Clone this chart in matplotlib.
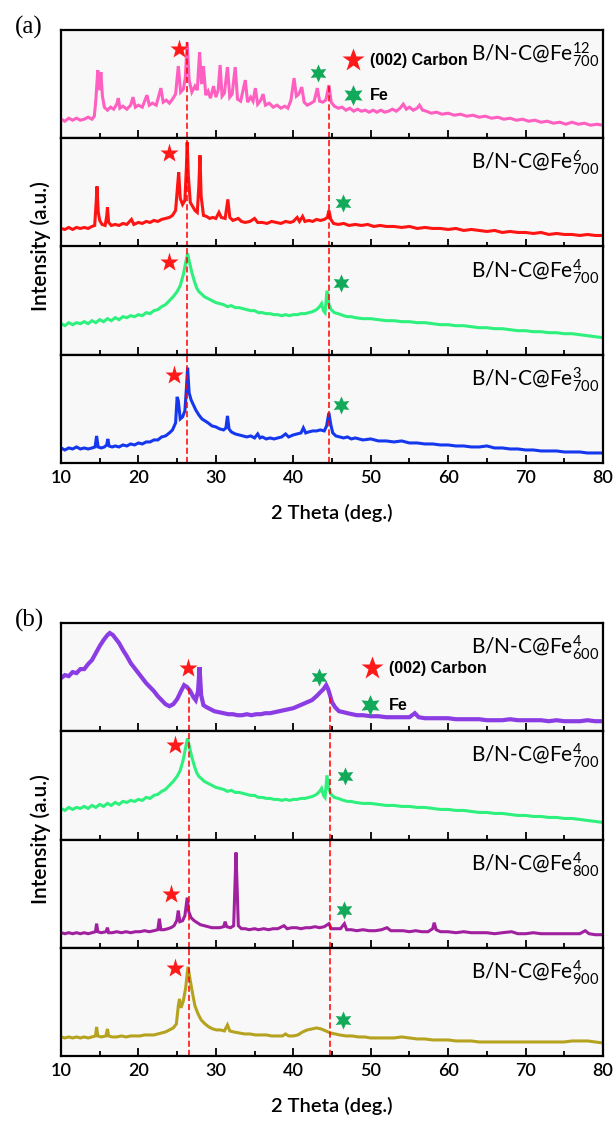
import numpy as np
import matplotlib
matplotlib.use("Agg")
import matplotlib.pyplot as plt
from matplotlib import font_manager
from matplotlib.ticker import MultipleLocator

# XRD patterns, 2 theta (deg.) vs intensity (a.u.)
fe12_700 = [(10, 19), (10.5, 17), (11, 20), (11.5, 18), (12, 20), (12.5, 18), (13, 19), (13.5, 21), (14, 19), (14.3, 22),
            (14.5, 38), (14.75, 68), (14.95, 48), (15.15, 66), (15.35, 42), (15.6, 31), (16.0, 28), (16.4, 31), (16.8, 29),
            (17.2, 34), (17.4, 40), (17.6, 30), (18.0, 32), (18.5, 29), (19.0, 33), (19.3, 41), (19.6, 31), (20.0, 33),
            (20.5, 31), (21.1, 43), (21.4, 33), (21.8, 35), (22.3, 33), (22.9, 50), (23.2, 36), (23.6, 38), (24.0, 35),
            (24.4, 39), (24.8, 44), (25.15, 72), (25.45, 46), (25.8, 49), (26.05, 60), (26.3, 96), (26.55, 58), (26.9, 46),
            (27.3, 52), (27.6, 48), (27.9, 86), (28.15, 54), (28.4, 72), (28.7, 43), (29.0, 47), (29.3, 40), (29.7, 52),
            (30.0, 41), (30.3, 48), (30.55, 73), (30.8, 42), (31.1, 45), (31.5, 71), (31.8, 41), (32.1, 44), (32.5, 71),
            (32.8, 39), (33.2, 37), (33.8, 58), (34.1, 36), (34.5, 41), (34.8, 37), (35.1, 50), (35.4, 34), (35.8, 38),
            (36.1, 44), (36.4, 33), (36.9, 35), (37.4, 31), (37.9, 33), (38.4, 30), (38.9, 32), (39.3, 30), (39.7, 38),
            (40.1, 60), (40.4, 42), (40.7, 44), (41.1, 51), (41.4, 36), (41.8, 33), (42.3, 35), (42.7, 37), (43.1, 50),
            (43.4, 37), (43.8, 36), (44.2, 38), (44.6, 53), (44.9, 36), (45.3, 32), (45.8, 30), (46.3, 31), (46.8, 28),
            (47.3, 30), (47.8, 27), (48.3, 29), (48.8, 27), (49.3, 28), (49.8, 26), (50.3, 28), (50.8, 26), (51.3, 28),
            (51.8, 26), (52.3, 27), (52.8, 29), (53.3, 27), (53.8, 30), (54.2, 34), (54.6, 29), (55.0, 31), (55.5, 28),
            (56.0, 30), (56.3, 33), (56.7, 28), (57.2, 27), (57.8, 25), (58.5, 26), (59.2, 24), (60.0, 25), (60.8, 23),
            (61.6, 24), (62.4, 22), (63.2, 23), (64.0, 21), (64.8, 22), (65.6, 20), (66.4, 21), (67.2, 19), (68.0, 20),
            (68.8, 18), (69.6, 19), (70.4, 17), (71.2, 18), (72.0, 16), (72.8, 17), (73.6, 15), (74.4, 16), (75.2, 14),
            (76.0, 16), (76.8, 14), (77.6, 15), (78.4, 13), (79.2, 14), (80.0, 13)]

fe6_700 = [(10, 18), (10.5, 17), (11, 19), (11.5, 17), (12, 19), (12.5, 18), (13, 19), (13.5, 18), (14, 20), (14.35, 21),
           (14.55, 45), (14.65, 60), (14.8, 35), (15.0, 26), (15.3, 22), (15.7, 21), (15.9, 30), (16.0, 39), (16.15, 24),
           (16.5, 21), (17.0, 22), (17.5, 21), (18.0, 23), (18.5, 22), (19.1, 27), (19.4, 22), (20.0, 24), (20.5, 23),
           (21.0, 25), (21.5, 24), (22.0, 26), (22.5, 25), (23.0, 27), (23.5, 28), (24.0, 29), (24.4, 31), (24.8, 36),
           (25.05, 60), (25.2, 74), (25.4, 48), (25.7, 42), (26.0, 46), (26.2, 80), (26.3, 104), (26.45, 70), (26.7, 44),
           (27.0, 40), (27.3, 36), (27.6, 34), (27.8, 60), (27.95, 91), (28.1, 50), (28.4, 31), (28.8, 30), (29.2, 28),
           (29.6, 29), (30.0, 28), (30.4, 34), (30.7, 29), (31.2, 28), (31.55, 47), (31.8, 29), (32.2, 26), (32.9, 28),
           (33.3, 25), (33.8, 24), (34.4, 25), (35.0, 28), (35.4, 24), (36.0, 24), (36.6, 23), (37.2, 25), (37.8, 24),
           (38.4, 23), (39.0, 25), (39.6, 24), (40.0, 25), (40.5, 29), (40.8, 25), (41.2, 30), (41.5, 25), (42.0, 26),
           (42.5, 25), (43.0, 27), (43.5, 26), (44.0, 27), (44.4, 29), (44.6, 36), (44.85, 27), (45.2, 23), (45.8, 22),
           (46.5, 23), (47.2, 21), (48.0, 22), (48.8, 21), (49.6, 22), (50.4, 20), (51.2, 21), (52.0, 20), (53.0, 20),
           (54.0, 19), (55.0, 20), (56.0, 18), (57.0, 19), (58.0, 18), (59.0, 18), (60.0, 17), (61.0, 18), (62.0, 16),
           (63.0, 17), (64.0, 16), (65.0, 15), (66.0, 16), (67.0, 14), (68.0, 15), (69.0, 14), (70.0, 14), (71.0, 13),
           (72.0, 14), (73.0, 12), (74.0, 13), (75.0, 12), (76.0, 12), (77.0, 11), (78.0, 12), (79.0, 11), (80.0, 11)]

fe4_700 = [(10, 31), (10.5, 29), (11, 32), (11.5, 30), (12, 32), (12.5, 31), (13, 33), (13.5, 31), (14, 34), (14.5, 32),
           (15, 35), (15.5, 33), (16, 36), (16.5, 34), (17, 37), (17.5, 35), (18, 38), (18.5, 37), (19, 39), (19.5, 38),
           (20, 40), (20.5, 39), (21, 42), (21.5, 41), (22, 44), (22.5, 45), (23, 48), (23.5, 50), (24, 54), (24.5, 58),
           (25.0, 63), (25.4, 69), (25.8, 80), (26.1, 92), (26.35, 101), (26.6, 92), (26.9, 82), (27.2, 74), (27.5, 67),
           (27.8, 63), (28.1, 61), (28.5, 58), (29.0, 56), (29.5, 54), (30.0, 52), (30.5, 51), (31.0, 50), (31.5, 48),
           (32.0, 49), (32.5, 47), (33.0, 47), (33.5, 46), (34.0, 45), (34.5, 44), (35.0, 44), (35.5, 42), (36.0, 42),
           (36.5, 41), (37.0, 41), (37.5, 40), (38.0, 40), (38.5, 39), (39.0, 40), (39.5, 39), (40.0, 40), (40.5, 40),
           (41.0, 41), (41.5, 41), (42.0, 42), (42.5, 43), (43.0, 45), (43.4, 48), (43.65, 51), (43.9, 44), (44.1, 42),
           (44.35, 64), (44.6, 50), (44.9, 45), (45.3, 42), (45.8, 41), (46.5, 39), (47.0, 38), (47.5, 38), (48.0, 37),
           (49.0, 36), (50.0, 36), (51.0, 35), (52.0, 34), (53.0, 34), (54.0, 33), (55.0, 33), (56.0, 32), (57.0, 32),
           (58.0, 31), (59.0, 30), (60.0, 30), (61.0, 29), (62.0, 29), (63.0, 28), (64.0, 27), (65.0, 27), (66.0, 26),
           (67.0, 26), (68.0, 25), (69.0, 24), (70.0, 24), (71.0, 23), (72.0, 23), (73.0, 22), (74.0, 22), (75.0, 21),
           (76.0, 21), (77.0, 20), (78.0, 19), (79.0, 18), (80.0, 17)]

fe3_700 = [(10, 15), (10.5, 13), (11, 15), (11.5, 14), (12, 16), (12.5, 14), (13, 15), (13.5, 14), (14, 15), (14.4, 16),
           (14.6, 27), (14.8, 16), (15.2, 15), (15.6, 16), (15.9, 18), (16.05, 24), (16.2, 17), (16.6, 16), (17.0, 17),
           (17.5, 16), (18.0, 18), (18.5, 17), (19.0, 19), (19.5, 18), (20.0, 20), (20.5, 19), (21.0, 21), (21.5, 21),
           (22.0, 23), (22.5, 23), (23.0, 26), (23.5, 27), (24.0, 30), (24.4, 33), (24.8, 40), (25.0, 66), (25.15, 62),
           (25.4, 44), (25.7, 46), (26.0, 52), (26.2, 75), (26.35, 95), (26.55, 70), (26.8, 63), (27.1, 58), (27.4, 53),
           (27.8, 48), (28.2, 44), (28.6, 42), (29.0, 40), (29.5, 37), (30.0, 36), (30.5, 34), (31.0, 33), (31.3, 35),
           (31.5, 47), (31.7, 34), (32.0, 31), (32.5, 29), (33.0, 28), (33.5, 27), (34.0, 26), (34.5, 27), (35.0, 25),
           (35.4, 29), (35.7, 25), (36.0, 26), (36.5, 24), (37.0, 25), (37.5, 24), (38.0, 25), (38.5, 26), (39.0, 29),
           (39.4, 26), (40.0, 28), (40.5, 29), (41.0, 30), (41.3, 35), (41.6, 30), (42.0, 31), (42.5, 32), (43.0, 32),
           (43.5, 33), (44.0, 32), (44.3, 37), (44.6, 50), (44.85, 38), (45.1, 30), (45.5, 27), (46.0, 26), (46.5, 25),
           (47.0, 26), (47.5, 24), (48.0, 25), (49.0, 23), (50.0, 24), (51.0, 22), (52.0, 22), (53.0, 21), (54.0, 22),
           (55.0, 20), (56.0, 20), (57.0, 19), (58.0, 19), (59.0, 18), (60.0, 18), (61.0, 17), (62.0, 17), (63.0, 16),
           (64.0, 16), (65.0, 17), (66.0, 15), (67.0, 15), (68.0, 14), (69.0, 14), (70.0, 13), (71.0, 13), (72.0, 12),
           (73.0, 12), (74.0, 12), (75.0, 11), (76.0, 11), (77.0, 11), (78.0, 10), (79.0, 10), (80.0, 10)]

fe4_600 = [(10, 53), (10.5, 56), (11, 55), (11.5, 59), (12, 58), (12.5, 62), (13, 62), (13.5, 67), (14, 71), (14.5, 78),
           (15, 85), (15.5, 91), (16.0, 96), (16.3, 98), (16.7, 96), (17.0, 93), (17.5, 88), (18.0, 81), (18.5, 75),
           (19.0, 68), (19.5, 63), (20.0, 58), (20.5, 53), (21.0, 48), (21.5, 44), (22.0, 40), (22.5, 35), (23.0, 31),
           (23.5, 27), (24.0, 25), (24.5, 27), (25.0, 32), (25.5, 40), (25.9, 46), (26.3, 44), (26.7, 40), (27.1, 34),
           (27.4, 31), (27.7, 40), (27.9, 64), (28.1, 36), (28.4, 26), (28.8, 24), (29.3, 22), (29.8, 20), (30.4, 19),
           (31.0, 18), (31.6, 17), (32.2, 17), (32.8, 16), (33.4, 16), (34.0, 17), (34.6, 16), (35.2, 17), (35.8, 17),
           (36.4, 18), (37.0, 18), (37.6, 19), (38.2, 20), (38.8, 21), (39.4, 22), (40.0, 23), (40.6, 25), (41.2, 27),
           (41.8, 29), (42.4, 31), (43.0, 35), (43.5, 39), (43.9, 42), (44.25, 46), (44.5, 42), (44.7, 37), (45.0, 29),
           (45.4, 24), (45.9, 20), (46.5, 19), (47.0, 18), (47.6, 17), (48.2, 16), (49.0, 16), (50.0, 15), (51.0, 15),
           (52.0, 14), (53.0, 14), (54.0, 14), (55.0, 14), (55.7, 18), (56.2, 14), (57.0, 13), (58.0, 13), (59.0, 13),
           (60.0, 13), (61.0, 12), (62.0, 12), (63.0, 12), (64.0, 12), (65.0, 11), (66.0, 11), (67.0, 11), (68.0, 12),
           (69.0, 11), (70.0, 11), (71.0, 11), (72.0, 11), (73.0, 10), (74.0, 11), (75.0, 10), (76.0, 10), (77.0, 10),
           (78.0, 11), (79.0, 10), (80.0, 10)]

fe4_800 = [(10, 15), (10.5, 14), (11, 15), (11.5, 14), (12, 15), (12.5, 14), (13, 15), (13.5, 14), (14, 15), (14.45, 16),
           (14.6, 24), (14.75, 16), (15.2, 15), (15.8, 16), (16.0, 20), (16.15, 15), (16.6, 15), (17.2, 16), (17.8, 15),
           (18.4, 16), (19.0, 15), (19.6, 16), (20.2, 16), (20.8, 17), (21.4, 16), (22.0, 17), (22.5, 18), (22.7, 29),
           (22.9, 18), (23.3, 18), (23.8, 19), (24.2, 20), (24.6, 22), (24.95, 27), (25.15, 37), (25.35, 26), (25.7, 27),
           (26.0, 32), (26.3, 50), (26.5, 36), (26.8, 30), (27.2, 27), (27.6, 25), (28.0, 23), (28.5, 22), (29.0, 21),
           (29.5, 20), (30.0, 20), (30.5, 20), (31.0, 21), (31.2, 26), (31.4, 21), (31.9, 20), (32.3, 22), (32.5, 70),
           (32.6, 95), (32.75, 60), (32.9, 22), (33.3, 19), (33.8, 19), (34.3, 18), (35.0, 19), (35.5, 18), (36.2, 19),
           (36.8, 18), (37.4, 19), (38.0, 19), (38.8, 22), (39.2, 19), (39.8, 20), (40.4, 20), (41.0, 19), (41.6, 20),
           (42.2, 20), (42.8, 21), (43.4, 20), (44.0, 21), (44.6, 24), (44.9, 19), (45.5, 19), (46.1, 19), (46.6, 24),
           (46.9, 18), (47.5, 18), (48.2, 17), (49.0, 18), (49.8, 17), (50.6, 17), (51.4, 18), (52.1, 20), (52.6, 17),
           (53.4, 17), (54.2, 17), (55.0, 16), (55.8, 17), (56.6, 16), (57.4, 16), (58.0, 19), (58.2, 25), (58.45, 18),
           (59.0, 16), (60.0, 16), (61.0, 15), (62.0, 16), (63.0, 15), (64.0, 15), (65.0, 15), (66.0, 14), (67.0, 15),
           (68.2, 16), (69.0, 14), (70.0, 14), (71.0, 15), (72.0, 14), (73.0, 14), (74.0, 14), (75.0, 14), (76.0, 14),
           (77.0, 14), (77.7, 17), (78.2, 14), (79.0, 13), (80.0, 13)]

fe4_900 = [(10, 19), (10.5, 18), (11, 19), (11.5, 18), (12, 19), (12.5, 18), (13, 19), (13.5, 18), (14, 19), (14.45, 20),
           (14.6, 29), (14.75, 20), (15.2, 19), (15.8, 20), (16.0, 27), (16.15, 20), (16.6, 19), (17.2, 19), (17.8, 20),
           (18.4, 19), (19.0, 20), (19.6, 20), (20.2, 20), (20.8, 21), (21.4, 21), (22.0, 21), (22.5, 22), (23.0, 23),
           (23.5, 24), (24.0, 26), (24.5, 28), (24.9, 32), (25.15, 50), (25.3, 57), (25.5, 48), (25.8, 55), (26.1, 68),
           (26.4, 89), (26.7, 75), (27.0, 62), (27.3, 50), (27.7, 42), (28.1, 36), (28.6, 32), (29.1, 29), (29.6, 27),
           (30.1, 26), (30.6, 26), (31.1, 25), (31.5, 31), (31.8, 25), (32.3, 24), (33.0, 23), (33.7, 22), (34.4, 22),
           (35.1, 21), (35.8, 21), (36.5, 21), (37.2, 20), (37.9, 20), (38.6, 20), (39.0, 22), (39.4, 20), (40.0, 20),
           (40.6, 21), (41.2, 24), (41.8, 26), (42.4, 27), (43.0, 28), (43.6, 27), (44.2, 25), (44.8, 23), (45.4, 22),
           (46.0, 21), (46.8, 20), (47.6, 20), (48.4, 19), (49.2, 19), (50.0, 18), (51.0, 18), (52.0, 18), (53.0, 18),
           (54.0, 19), (55.0, 18), (56.0, 17), (57.0, 17), (58.0, 16), (59.0, 16), (60.0, 16), (61.0, 15), (62.0, 15),
           (63.0, 15), (64.0, 14), (65.0, 14), (66.0, 14), (67.0, 14), (68.0, 14), (69.0, 14), (70.0, 14), (71.0, 14),
           (72.0, 14), (73.0, 14), (74.0, 14), (75.0, 14), (76.0, 15), (77.0, 15), (78.0, 15), (79.0, 14), (80.0, 13)]

# panel (a): Fe loading series at 700 C, panel (b): temperature series
labels_a = [r"B/N-C@$\mathrm{Fe}^{12}_{700}$", r"B/N-C@$\mathrm{Fe}^{6}_{700}$",
            r"B/N-C@$\mathrm{Fe}^{4}_{700}$", r"B/N-C@$\mathrm{Fe}^{3}_{700}$"]
labels_b = [r"B/N-C@$\mathrm{Fe}^{4}_{600}$", r"B/N-C@$\mathrm{Fe}^{4}_{700}$",
            r"B/N-C@$\mathrm{Fe}^{4}_{800}$", r"B/N-C@$\mathrm{Fe}^{4}_{900}$"]
colors_a = ["#ff5fc0", "#ff1414", "#2ef07c", "#1538ee"]
colors_b = ["#8b3de3", "#2ef07c", "#a0209f", "#b5a320"]

# star positions (2 theta, intensity) for (002) carbon and Fe
carbon_a = [(25.3, 89), (24.0, 93), (24.0, 93), (24.6, 88)]
fe_a = [(43.2, 65), (46.4, 43), (46.2, 72), (46.2, 58)]
carbon_b = [(26.4, 63), (24.7, 94), (24.2, 54), (24.7, 88)]
fe_b = [(43.3, 54), (46.7, 63), (46.5, 38), (46.4, 36)]

# guide lines: carbon (002) and Fe positions, and where they start in the top panel
guides_a = [(26.3, 96), (44.6, 53)]
guides_b = [(26.5, 44), (44.8, 37)]

names = {f.name for f in font_manager.fontManager.ttflist}
main_font = "Lato" if "Lato" in names else "Liberation Sans"
plt.rcParams["font.family"] = [main_font, "DejaVu Sans"]
plt.rcParams["mathtext.fontset"] = "custom"
plt.rcParams["mathtext.rm"] = main_font
plt.rcParams["mathtext.it"] = main_font

W, H = 614, 1121
fig = plt.figure(figsize=(W / 100, H / 100), dpi=100)

LEFT, RIGHT = 61, 603
PANEL_H = 108.25
RED = "#ff1a1a"
GREEN = "#12a95a"
hexagram = (6, 1, 0)


def draw_group(top, patterns, labels, colors, carbon, fe, guides, legend_pos, tag):
    axes = []
    for i, (pat, lab, col) in enumerate(zip(patterns, labels, colors)):
        y0 = top + (i + 1) * PANEL_H
        ax = fig.add_axes([LEFT / W, 1 - y0 / H, (RIGHT - LEFT) / W, PANEL_H / H])
        ax.set_facecolor("#f8f8f8")
        arr = np.array(pat)
        lw = 3.0 if i == 0 and tag == "(b)" else 2.2
        ax.plot(arr[:, 0], arr[:, 1], color=col, lw=lw, solid_joinstyle="miter")
        ax.set_xlim(10, 80)
        ax.set_ylim(0, 108)
        for x, ystart in guides:
            if i == 0:
                ax.plot([x, x], [0, ystart], color="red", lw=1.1, ls=(0, (4, 2)))
            else:
                ax.axvline(x, color="red", lw=1.1, ls=(0, (4, 2)))
        ax.plot(*carbon[i], marker="*", ms=14, color=RED, mec="none")
        ax.plot(*fe[i], marker=hexagram, ms=13, color=GREEN, mec="none")
        ax.text(0.993, 0.77, lab, transform=ax.transAxes, ha="right", va="center", fontsize=15)
        ax.xaxis.set_major_locator(MultipleLocator(10))
        ax.xaxis.set_minor_locator(MultipleLocator(5))
        ax.tick_params(axis="x", which="both", direction="in", top=False, width=1.3, labelsize=13, pad=5)
        ax.tick_params(axis="x", which="major", length=6)
        ax.tick_params(axis="x", which="minor", length=3.5)
        ax.tick_params(axis="y", left=False, labelleft=False)
        for t in ax.get_xticklabels():
            t.set_fontweight("semibold")
        if i < 3:
            ax.tick_params(axis="x", labelbottom=False)
        for s in ax.spines.values():
            s.set_linewidth(1.6)
        axes.append(ax)

    (cx, cy), (fx, fy), tx = legend_pos
    ax0 = axes[0]
    ax0.plot(cx, cy, marker="*", ms=17, color=RED, mec="none")
    ax0.plot(fx, fy, marker=hexagram, ms=15, color=GREEN, mec="none")
    ax0.text(tx, cy, "(002) Carbon", fontsize=11.5, weight="bold", va="center", family="Liberation Sans")
    ax0.text(tx, fy, "Fe", fontsize=11.5, weight="bold", va="center", family="Liberation Sans")

    bottom_ax = axes[-1]
    bottom_ax.set_xlabel("2 Theta (deg.)", fontsize=14.5, weight="semibold", labelpad=13)
    mid = top + 2 * PANEL_H
    fig.text(41 / W, 1 - mid / H, "Intensity (a.u.)", rotation=90, ha="center", va="center",
             fontsize=15, weight="semibold")
    fig.text(29 / W, 1 - (top - 3) / H, tag, ha="center", va="center", fontsize=18,
             family="Liberation Serif")


draw_group(30, [fe12_700, fe6_700, fe4_700, fe3_700], labels_a, colors_a, carbon_a, fe_a, guides_a,
           ((47.7, 78), (47.7, 43), 49.9), "(a)")
draw_group(623, [fe4_600, fe4_700, fe4_800, fe4_900], labels_b, colors_b, carbon_b, fe_b, guides_b,
           ((50.2, 63), (49.9, 26), 52.4), "(b)")

fig.savefig("out.png", dpi=100, facecolor="white")
